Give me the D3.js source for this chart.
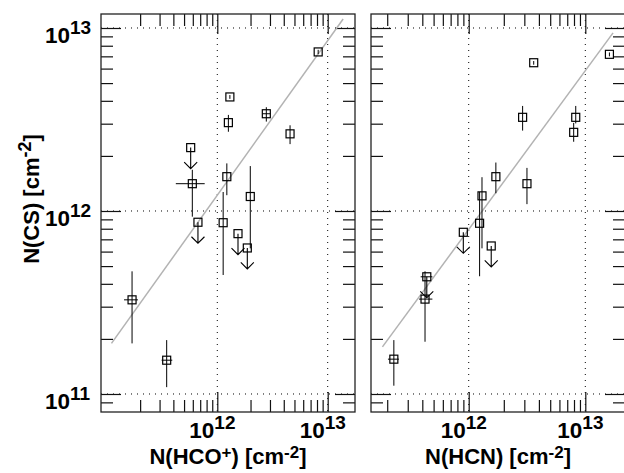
<!DOCTYPE html>
<html>
<head>
<meta charset="utf-8">
<script src="https://cdn.jsdelivr.net/npm/d3@7"></script>
<style>
body { margin: 0; background: white; }
svg text { font-family: "Liberation Sans", Arial, Helvetica, sans-serif; font-weight: bold; fill: black; }
</style>
</head>
<body>
<div id="chart"></div>
<script>
// left panel: N(HCO+) against N(CS)
const hcoX   = [8.2e12, 1.30e12, 1.26e12, 2.78e12, 4.56e12, 5.74e11, 5.94e11, 6.68e11, 1.22e12, 1.13e12, 1.99e12, 1.54e12, 1.87e12, 1.69e11, 3.48e11];
const hcoXlo = [8.2e12, 1.30e12, 1.26e12, 2.56e12, 4.56e12, 5.74e11, 4.21e11, 6.68e11, 1.22e12, 1.13e12, 1.99e12, 1.54e12, 1.87e12, 1.43e11, 3.13e11];
const hcoXhi = [8.2e12, 1.30e12, 1.26e12, 3.02e12, 4.56e12, 5.74e11, 7.69e11, 6.68e11, 1.22e12, 1.13e12, 1.99e12, 1.54e12, 1.87e12, 1.91e11, 3.91e11];
const csL    = [7.4e12, 4.2e12, 3.04e12, 3.40e12, 2.64e12, 2.22e12, 1.41e12, 8.68e11, 1.54e12, 8.63e11, 1.20e12, 7.52e11, 6.28e11, 3.27e11, 1.53e11];
const csLlo  = [7.2e12, 4.1e12, 2.71e12, 3.08e12, 2.32e12, 2.22e12, 9.31e11, 8.68e11, 1.22e12, 4.47e11, 6.25e11, 7.52e11, 6.28e11, 1.89e11, 1.09e11];
const csLhi  = [7.6e12, 4.3e12, 3.35e12, 3.69e12, 2.94e12, 2.22e12, 1.68e12, 8.68e11, 1.82e12, 1.27e12, 1.76e12, 7.52e11, 6.28e11, 4.68e11, 1.97e11];
const limL   = [0, 0, 0, 0, 0, 1, 0, 1, 0, 0, 0, 1, 1, 0, 0];
const fitL   = [[1.10e11, 1.89e11], [1.38e13, 1.12e13]];

// right panel: N(HCN) against N(CS)
const hcnX   = [1.61e13, 3.61e12, 2.90e12, 8.28e12, 7.95e12, 1.71e12, 3.16e12, 1.30e12, 1.24e12, 8.99e11, 1.56e12, 4.37e11, 4.22e11, 2.28e11];
const hcnXlo = [1.61e13, 3.61e12, 2.90e12, 8.28e12, 7.95e12, 1.71e12, 3.16e12, 1.30e12, 1.24e12, 8.99e11, 1.56e12, 3.87e11, 3.75e11, 2.03e11];
const hcnXhi = [1.61e13, 3.61e12, 2.90e12, 8.28e12, 7.95e12, 1.71e12, 3.16e12, 1.30e12, 1.24e12, 8.99e11, 1.56e12, 4.88e11, 4.88e11, 2.52e11];
const csR    = [7.18e12, 6.46e12, 3.25e12, 3.25e12, 2.69e12, 1.54e12, 1.41e12, 1.21e12, 8.57e11, 7.65e11, 6.44e11, 4.37e11, 3.30e11, 1.55e11];
const csRlo  = [7.0e12, 6.3e12, 2.75e12, 3.01e12, 2.39e12, 1.25e12, 1.09e12, 6.25e11, 4.40e11, 7.65e11, 6.44e11, 4.37e11, 1.93e11, 1.11e11];
const csRhi  = [7.35e12, 6.6e12, 3.75e12, 3.75e12, 3.03e12, 1.84e12, 1.72e12, 1.53e12, 1.27e12, 7.65e11, 6.44e11, 4.37e11, 4.68e11, 1.97e11];
const limR   = [0, 0, 0, 0, 0, 0, 0, 0, 0, 1, 1, 1, 0, 0];
const fitR   = [[1.82e11, 1.81e11], [1.73e13, 9.4e12]];

// ticks
const xMajor = [1e12, 1e13];
const xMinor = [2e11, 3e11, 4e11, 5e11, 6e11, 7e11, 8e11, 9e11, 2e12, 3e12, 4e12, 5e12, 6e12, 7e12, 8e12, 9e12];
const yMajor = [1e11, 1e12, 1e13];
const yMinor = [9e10, 2e11, 3e11, 4e11, 5e11, 6e11, 7e11, 8e11, 9e11, 2e12, 3e12, 4e12, 5e12, 6e12, 7e12, 8e12, 9e12];
const xExp = ["12", "13"];
const yExp = ["11", "12", "13"];

const plotTop = 14, plotBottom = 412;

const svg = d3.select("#chart")
	.append("svg")
	.attr("width", 624)
	.attr("height", 473);

svg.append("rect").attr("width", 624).attr("height", 473).attr("fill", "white");

const y = d3.scaleLog()
	.domain([10 ** 10.9016, 10 ** 13.0765])
	.range([plotBottom, plotTop]);

function pow10(g, x, yy, exp, big, small, rise) {
	const t = g.append("text").attr("x", x).attr("y", yy);
	t.append("tspan").attr("font-size", big).text("10");
	t.append("tspan").attr("font-size", small).attr("dy", -rise).text(exp);
	return t;
}

function title(t, parts, big, small, rise) {
	let up = false;
	parts.forEach(([s, sup]) => {
		t.append("tspan")
			.attr("font-size", sup ? small : big)
			.attr("dy", sup ? (up ? 0 : -rise) : (up ? rise : 0))
			.text(s);
		up = !!sup;
	});
}

function panel(p) {
	const x = d3.scaleLog().domain(p.dom).range([p.left, p.right]);
	const g = svg.append("g");

	// dotted grid at the decades
	g.append("g").selectAll("line")
		.data(xMajor)
		.join("line")
		.attr("x1", d => x(d)).attr("x2", d => x(d))
		.attr("y1", plotTop).attr("y2", plotBottom)
		.attr("stroke", "black").attr("stroke-width", 1)
		.attr("stroke-dasharray", "1,5");
	g.append("g").selectAll("line")
		.data(yMajor)
		.join("line")
		.attr("x1", p.left).attr("x2", p.right)
		.attr("y1", d => y(d)).attr("y2", d => y(d))
		.attr("stroke", "black").attr("stroke-width", 1)
		.attr("stroke-dasharray", "1,5");

	// ticks on all four sides, pointing inwards
	const axes = [
		[d3.axisBottom(x), `translate(0,${plotBottom})`, xMinor, xMajor],
		[d3.axisTop(x), `translate(0,${plotTop})`, xMinor, xMajor],
		[d3.axisLeft(y), `translate(${p.left},0)`, yMinor, yMajor],
		[d3.axisRight(y), `translate(${p.right},0)`, yMinor, yMajor]
	];
	axes.forEach(([ax, tr, minor, major]) => {
		[[minor, 12], [major, 20]].forEach(([vals, len]) => {
			const a = g.append("g")
				.attr("transform", tr)
				.call(ax.tickValues(vals).tickSize(-len).tickFormat(""));
			a.select(".domain").remove();
			a.selectAll("line").attr("stroke", "#111").attr("stroke-width", 1.2);
		});
	});

	// fit line
	g.append("path")
		.attr("d", d3.line().x(d => x(d[0])).y(d => y(d[1]))(p.fit))
		.attr("fill", "none")
		.attr("stroke", "#b3b3b3")
		.attr("stroke-width", 1.5);

	const pts = p.xs.map((v, i) => ({
		x: v, xlo: p.xlo[i], xhi: p.xhi[i],
		y: p.ys[i], ylo: p.ylo[i], yhi: p.yhi[i], lim: p.lim[i]
	}));
	const dots = g.append("g").selectAll("g")
		.data(pts)
		.join("g");

	// error bars
	dots.filter(d => !d.lim).append("line")
		.attr("x1", d => x(d.x)).attr("x2", d => x(d.x))
		.attr("y1", d => y(d.ylo)).attr("y2", d => y(d.yhi))
		.attr("stroke", "black").attr("stroke-width", 1);
	dots.filter(d => d.xlo !== d.xhi).append("line")
		.attr("x1", d => x(d.xlo)).attr("x2", d => x(d.xhi))
		.attr("y1", d => y(d.y)).attr("y2", d => y(d.y))
		.attr("stroke", "black").attr("stroke-width", 1);

	// upper limits
	dots.filter(d => d.lim).append("path")
		.attr("d", d => {
			const cx = x(d.x), cy = y(d.y);
			return `M${cx},${cy}V${cy + 21}M${cx - 6.5},${cy + 14.5}L${cx},${cy + 21}L${cx + 6.5},${cy + 14.5}`;
		})
		.attr("fill", "none")
		.attr("stroke", "black").attr("stroke-width", 1.1);

	dots.append("rect")
		.attr("x", d => x(d.x) - 4)
		.attr("y", d => y(d.y) - 4)
		.attr("width", 8).attr("height", 8)
		.attr("fill", "none")
		.attr("stroke", "black").attr("stroke-width", 1.2);

	// frame
	g.append("rect")
		.attr("x", p.left).attr("y", plotTop)
		.attr("width", p.right - p.left).attr("height", plotBottom - plotTop)
		.attr("fill", "none")
		.attr("stroke", "#222").attr("stroke-width", 1.3);

	// labels
	xMajor.forEach((v, i) => pow10(g, x(v) - 28, 437.5, xExp[i], 22.5, 19, 9));

	const tt = g.append("text")
		.attr("x", (p.left + p.right) / 2)
		.attr("y", 464)
		.attr("text-anchor", "middle");
	title(tt, p.title, 22, 17, 6);
}

panel({left: 101, right: 355, dom: [10 ** 10.9466, 10 ** 13.2473],
	xs: hcoX, xlo: hcoXlo, xhi: hcoXhi, ys: csL, ylo: csLlo, yhi: csLhi, lim: limL, fit: fitL,
	title: [["N(HCO", 0], ["+", 1], [") [cm", 0], ["-2", 1], ["]", 0]]});
panel({left: 371, right: 625, dom: [10 ** 11.162, 10 ** 13.3405],
	xs: hcnX, xlo: hcnXlo, xhi: hcnXhi, ys: csR, ylo: csRlo, yhi: csRhi, lim: limR, fit: fitR,
	title: [["N(HCN) [cm", 0], ["-2", 1], ["]", 0]]});

// y tick labels, left panel only
yMajor.forEach((v, i) => pow10(svg, 45, y(v) + 15, yExp[i], 22.5, 19, 9));

// y title
const yt = svg.append("text")
	.attr("transform", "translate(39,199) rotate(-90)")
	.attr("text-anchor", "middle");
title(yt, [["N(CS) [cm", 0], ["-2", 1], ["]", 0]], 22, 18, 8);
</script>
</body>
</html>
